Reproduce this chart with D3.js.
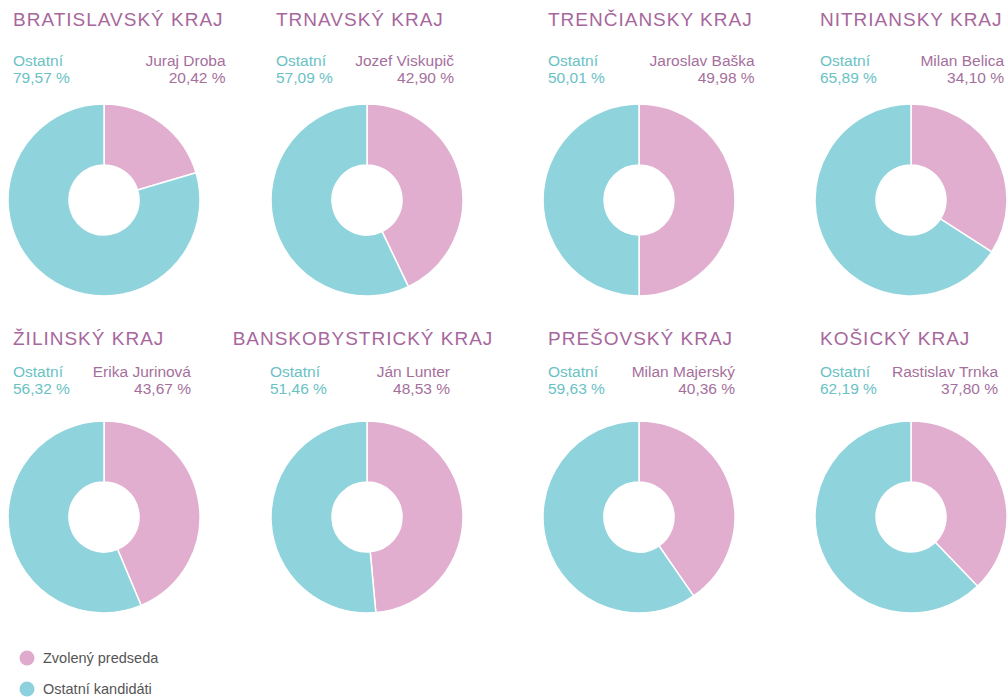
<!DOCTYPE html>
<html>
<head>
<meta charset="utf-8">
<script src="https://cdn.jsdelivr.net/npm/d3@7"></script>
<style>
  body { margin: 0; background: #fff; }
  svg { display: block; font-family: "Liberation Sans", Arial, sans-serif; }
</style>
</head>
<body>
<div id="chart"></div>
<script>
// data
var regions = ["BRATISLAVSKÝ KRAJ", "TRNAVSKÝ KRAJ", "TRENČIANSKY KRAJ", "NITRIANSKY KRAJ",
  "ŽILINSKÝ KRAJ", "BANSKOBYSTRICKÝ KRAJ", "PREŠOVSKÝ KRAJ", "KOŠICKÝ KRAJ"];
var winners = ["Juraj Droba", "Jozef Viskupič", "Jaroslav Baška", "Milan Belica",
  "Erika Jurinová", "Ján Lunter", "Milan Majerský", "Rastislav Trnka"];
var winnerShare = [20.42, 42.90, 49.98, 34.10, 43.67, 48.53, 40.36, 37.80];
var otherShare = [79.57, 57.09, 50.01, 65.89, 56.32, 51.46, 59.63, 62.19];
var otherLabel = "Ostatní";
var legendLabels = ["Zvolený predseda", "Ostatní kandidáti"];

var svgWidth = 1008;
var svgHeight = 697;

// grid layout
var colX = [104, 367, 639, 911];
var rowY = [200, 517];
var titleY = [26, 345];
var nameY = [66, 377];
var pctY = [83, 394];
var outerR = 96;
var innerR = 35;
var blockW = 178;

var pink = "#e2aed0";
var teal = "#8fd3dc";
var titleColor = "#a7679c";
var nameColor = "#a56f9c";
var otherColor = "#69c2c4";

var svg = d3.select("#chart")
  .append("svg")
  .attr("width", svgWidth)
  .attr("height", svgHeight);

var locale = d3.formatLocale({ decimal: ",", thousands: " ", grouping: [3], currency: ["", ""] });
var pct = function(v) { return locale.format(".2f")(v) + " %"; };

var pie = d3.pie().sort(null).value(d => d);
var arc = d3.arc().innerRadius(innerR).outerRadius(outerR);

regions.forEach(function(name, i) {
  var row = Math.floor(i / 4);
  var cx = colX[i % 4];
  var cy = rowY[row];
  var g = svg.append("g");

  // title
  var left = cx - 91;
  var title = g.append("text")
    .attr("x", left)
    .attr("y", titleY[row])
    .attr("font-size", "19px")
    .attr("letter-spacing", "1px")
    .attr("fill", titleColor)
    .text(name);
  var tw = title.node().getBBox().width;

  // labels
  var lab = g.append("g").attr("font-size", "15.5px");
  var other = lab.append("text")
    .attr("x", left).attr("y", nameY[row])
    .attr("fill", otherColor)
    .text(otherLabel);
  lab.append("text")
    .attr("x", left).attr("y", pctY[row])
    .attr("fill", otherColor)
    .text(pct(otherShare[i]));
  var who = lab.append("text")
    .attr("y", nameY[row])
    .attr("fill", nameColor)
    .attr("text-anchor", "end")
    .text(winners[i]);
  var natural = other.node().getComputedTextLength() + 16 + who.node().getComputedTextLength();
  var w = Math.max(blockW, natural, tw + 2);
  if (tw > 230) {
    // wide title gets centered over the donut, labels stay narrow
    title.attr("x", cx - tw / 2 - 4);
    left = cx - 97;
    w = blockW + 2;
    lab.selectAll("text").filter(function() { return d3.select(this).attr("text-anchor") !== "end"; })
      .attr("x", left);
  }
  var right = Math.min(left + w, svgWidth - 4);
  who.attr("x", right);
  lab.append("text")
    .attr("x", right).attr("y", pctY[row])
    .attr("fill", nameColor)
    .attr("text-anchor", "end")
    .text(pct(winnerShare[i]));

  // donut
  g.append("g")
    .attr("transform", `translate(${cx}, ${cy})`)
    .selectAll("path")
    .data(pie([winnerShare[i], otherShare[i]]))
    .enter()
    .append("path")
    .attr("d", arc)
    .attr("fill", (d, j) => j === 0 ? pink : teal)
    .attr("stroke", "#fff")
    .attr("stroke-width", 1.5);
});

// legend
var legend = svg.append("g")
  .selectAll("g")
  .data(legendLabels)
  .enter()
  .append("g")
  .attr("transform", (d, i) => `translate(27, ${658 + i * 31})`);

legend.append("circle")
  .attr("r", 7.5)
  .attr("fill", (d, i) => i === 0 ? "#e0aacd" : "#8dd1dc");

legend.append("text")
  .attr("x", 16)
  .attr("y", 5)
  .attr("font-size", "14.5px")
  .attr("fill", "#555")
  .text(d => d);
</script>
</body>
</html>
